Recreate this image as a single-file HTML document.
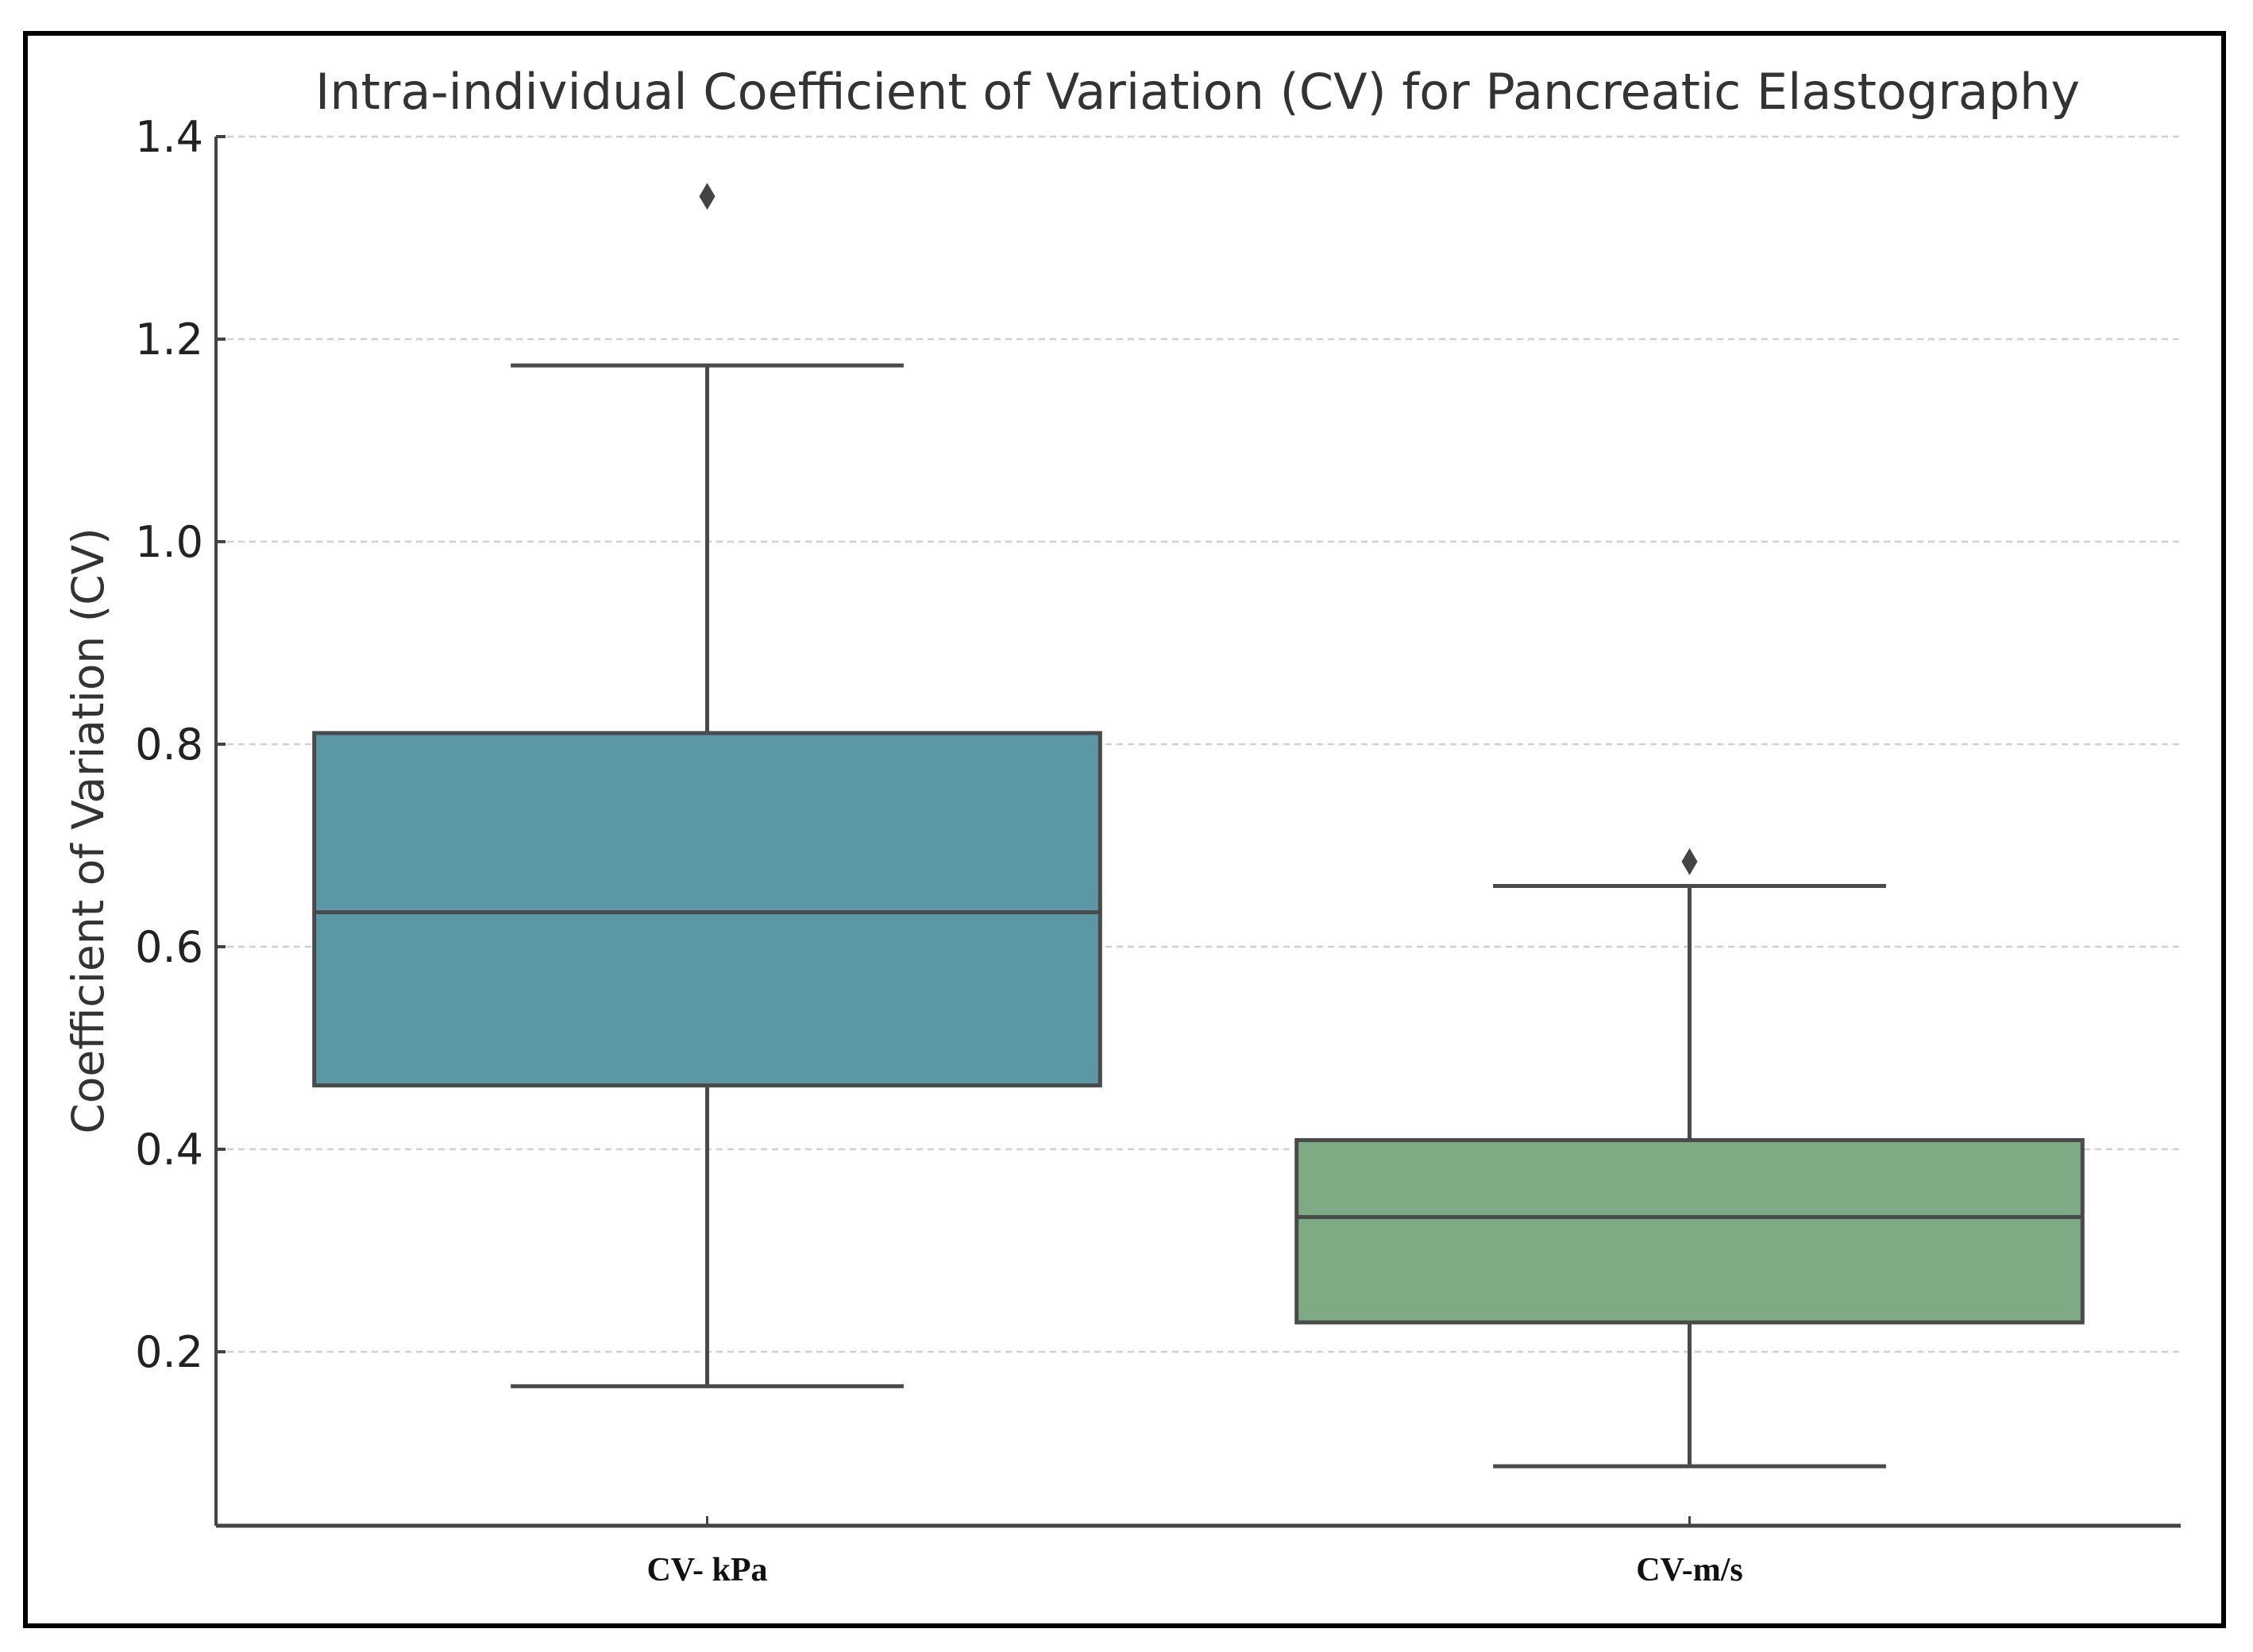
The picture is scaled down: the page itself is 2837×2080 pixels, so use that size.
<!DOCTYPE html>
<html><head><meta charset="utf-8"><style>
html,body{margin:0;padding:0;background:#fff;}
svg{display:block;}
.sans{font-family:"DejaVu Sans","Liberation Sans",sans-serif;}
.serif{font-family:"Liberation Serif",serif;}
</style></head><body>
<svg id="chart" width="2837" height="2080" viewBox="0 0 2837 2080" xmlns="http://www.w3.org/2000/svg">
<rect x="0" y="0" width="2837" height="2080" fill="#fff"/>
<rect x="32" y="42" width="2768" height="2005" fill="none" stroke="#000" stroke-width="6"/>
<text class="sans" x="1508" y="137" font-size="62" fill="#333" text-anchor="middle">Intra-individual Coefficient of Variation (CV) for Pancreatic Elastography</text>
<text class="sans" transform="translate(130,1046) rotate(-90)" font-size="55" fill="#333" text-anchor="middle">Coefficient of Variation (CV)</text>
<g id="grid"></g><g id="boxes"></g><g id="axes"></g>
</svg>
<script>
const categories = ["CV- kPa", "CV-m/s"];
const q1 = [0.463, 0.229];
const medians = [0.634, 0.333];
const q3 = [0.811, 0.409];
const whiskerLow = [0.166, 0.087];
const whiskerHigh = [1.174, 0.660];
const outliers = [[1.341], [0.684]];
const yTicks = [0.2, 0.4, 0.6, 0.8, 1.0, 1.2, 1.4];
const yTickLabels = ["0.2", "0.4", "0.6", "0.8", "1.0", "1.2", "1.4"];
const colors = ["#5b97a5", "#7eab84"];

const NS = "http://www.w3.org/2000/svg";
const plotL = 272, plotR = 2746, plotB = 1921, plotT = 172;
function y(v){ return 1702 - (v - 0.2) * 1275; }
function x(i){ return plotL + (i + 0.5) * (plotR - plotL) / categories.length; }
const bandW = (plotR - plotL) / categories.length;
function mk(tag, attrs, parent){
  const e = document.createElementNS(NS, tag);
  for (const k in attrs) e.setAttribute(k, attrs[k]);
  parent.appendChild(e);
  return e;
}
const grid = document.getElementById('grid'), boxes = document.getElementById('boxes'), axes = document.getElementById('axes');
yTicks.forEach((t, i) => {
  const g = mk('line', {x1: plotL, x2: plotR, y1: y(t), y2: y(t), stroke: '#d0d0d0', 'stroke-width': 2.5, 'stroke-dasharray': '8 6'}, grid);
  
  
  const tk = mk('line', {x1: plotL, x2: plotL + 12, y1: y(t), y2: y(t), stroke: '#444', 'stroke-width': 4}, axes);
  
  
  const lb = mk('text', {x: plotL - 16, y: y(t) + 19, 'font-size': 54, fill: '#222', 'text-anchor': 'end', 'class': 'sans'}, axes);
  lb.textContent = yTickLabels[i];
  
  
});
const ya = mk('line', {x1: plotL, x2: plotL, y1: plotT, y2: plotB, stroke: '#444', 'stroke-width': 4}, axes);


const xa = mk('line', {x1: plotL, x2: plotR, y1: plotB, y2: plotB, stroke: '#444', 'stroke-width': 5}, axes);


const lc = '#4a4a4a', lw = 5;
categories.forEach((c, i) => {
  const cx = x(i), bw = bandW * 0.8, cw = bw / 2;
  const w1 = mk('line', {x1: cx, x2: cx, y1: y(q3[i]), y2: y(whiskerHigh[i]), stroke: lc, 'stroke-width': lw}, boxes);
  
  
  const w2 = mk('line', {x1: cx, x2: cx, y1: y(q1[i]), y2: y(whiskerLow[i]), stroke: lc, 'stroke-width': lw}, boxes);
  
  
  const c1 = mk('line', {x1: cx - cw/2, x2: cx + cw/2, y1: y(whiskerHigh[i]), y2: y(whiskerHigh[i]), stroke: lc, 'stroke-width': lw}, boxes);
  
  
  const c2 = mk('line', {x1: cx - cw/2, x2: cx + cw/2, y1: y(whiskerLow[i]), y2: y(whiskerLow[i]), stroke: lc, 'stroke-width': lw}, boxes);
  
  
  const b = mk('rect', {x: cx - bw/2, y: y(q3[i]), width: bw, height: y(q1[i]) - y(q3[i]), fill: colors[i], stroke: lc, 'stroke-width': lw}, boxes);
  
  
  const m = mk('line', {x1: cx - bw/2, x2: cx + bw/2, y1: y(medians[i]), y2: y(medians[i]), stroke: lc, 'stroke-width': lw}, boxes);
  
  
  outliers[i].forEach(o => {
    const oy = y(o);
    const p = mk('polygon', {points: `${cx},${oy-17} ${cx+10},${oy} ${cx},${oy+17} ${cx-10},${oy}`, fill: '#444'}, boxes);
    
    
  });
  const t = mk('line', {x1: cx, x2: cx, y1: plotB, y2: plotB - 12, stroke: '#444', 'stroke-width': 3}, axes);
  
  
  const l = mk('text', {x: cx, y: 1990, 'font-size': 42, 'font-weight': 'bold', fill: '#111', 'text-anchor': 'middle', 'class': 'serif'}, axes);
  l.textContent = c;
  
  
});
</script>
</body></html>
